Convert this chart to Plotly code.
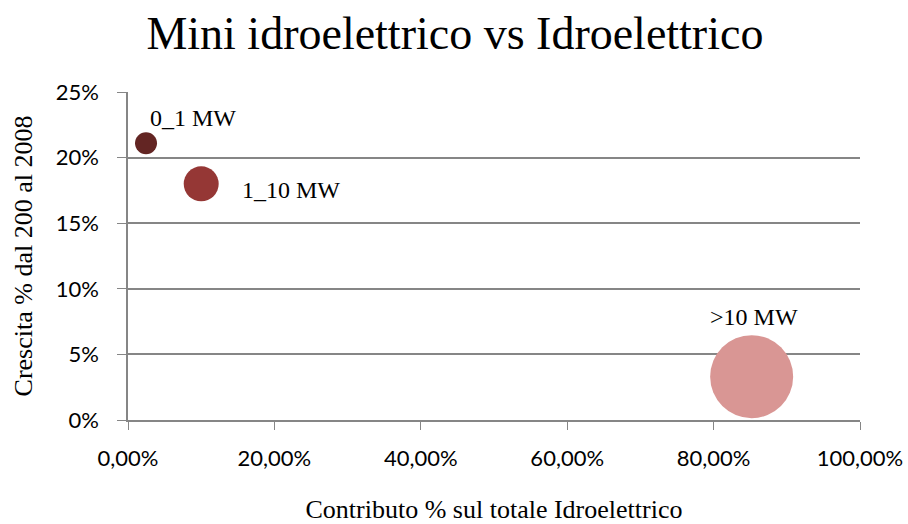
import plotly.graph_objects as go

# bubble data
categories = ["0_1 MW", "1_10 MW", ">10 MW"]
contributo = [0.0246, 0.100, 0.852]
crescita = [0.211, 0.180, 0.033]
bubble_size = [22, 35, 83]
colors = ["#632523", "#953735", "#D99694"]

x_ticks = [0, 0.2, 0.4, 0.6, 0.8, 1.0]
x_tick_labels = ["0,00%", "20,00%", "40,00%", "60,00%", "80,00%", "100,00%"]
y_ticks = [0, 0.05, 0.10, 0.15, 0.20, 0.25]
y_tick_labels = ["0%", "5%", "10%", "15%", "20%", "25%"]

# label offsets (pixels) relative to each bubble
label_shift = [(47, 25), (90, -6), (2, 60)]

serif = "Liberation Serif"
sans = "Lato"

fig = go.Figure()

fig.add_trace(
    go.Scatter(
        x=contributo,
        y=crescita,
        mode="markers",
        marker=dict(
            size=bubble_size,
            color=colors,
            opacity=1,
            line=dict(width=0)
        ),
        showlegend=False,
        hoverinfo="text",
        text=categories
    )
)

for i in range(len(categories)):
    fig.add_annotation(
        x=contributo[i],
        y=crescita[i],
        text=categories[i],
        showarrow=False,
        xshift=label_shift[i][0],
        yshift=label_shift[i][1],
        font=dict(family=serif, size=24, color="#000000")
    )

fig.update_layout(
    width=908,
    height=524,
    paper_bgcolor="white",
    plot_bgcolor="white",
    margin=dict(l=128, r=48, t=92, b=104),
    title=dict(
        text="Mini idroelettrico vs Idroelettrico",
        x=0.501,
        xanchor="center",
        y=0.937,
        yanchor="middle",
        xref="container",
        font=dict(family=serif, size=46, color="#000000")
    ),
    xaxis=dict(
        range=[0, 1],
        tickvals=x_ticks,
        ticktext=x_tick_labels,
        showgrid=False,
        zeroline=False,
        showline=True,
        linecolor="#868686",
        linewidth=1.5,
        ticks="outside",
        ticklen=8,
        tickcolor="#868686",
        ticklabelstandoff=10,
        automargin=False,
        tickfont=dict(family=sans, size=22, color="#000000"),
        title=dict(
            text="Contributo % sul totale Idroelettrico",
            font=dict(family=serif, size=26, color="#000000"),
            standoff=38
        )
    ),
    yaxis=dict(
        range=[0, 0.25],
        tickvals=y_ticks,
        ticktext=y_tick_labels,
        showgrid=True,
        gridcolor="#868686",
        gridwidth=1.5,
        zeroline=False,
        showline=True,
        linecolor="#868686",
        linewidth=1.5,
        ticks="outside",
        ticklen=9,
        tickcolor="#868686",
        ticklabelstandoff=14,
        automargin=False,
        tickfont=dict(family=sans, size=22, color="#000000"),
        title=dict(
            text="Crescita % dal 200 al 2008",
            font=dict(family=serif, size=26, color="#000000"),
            standoff=16
        )
    )
)

# drop the default page margin so the figure sits at the window origin
fig.write_html(
    "out.html",
    config={"displayModeBar": False},
    post_script="document.body.style.margin='0';"
)
